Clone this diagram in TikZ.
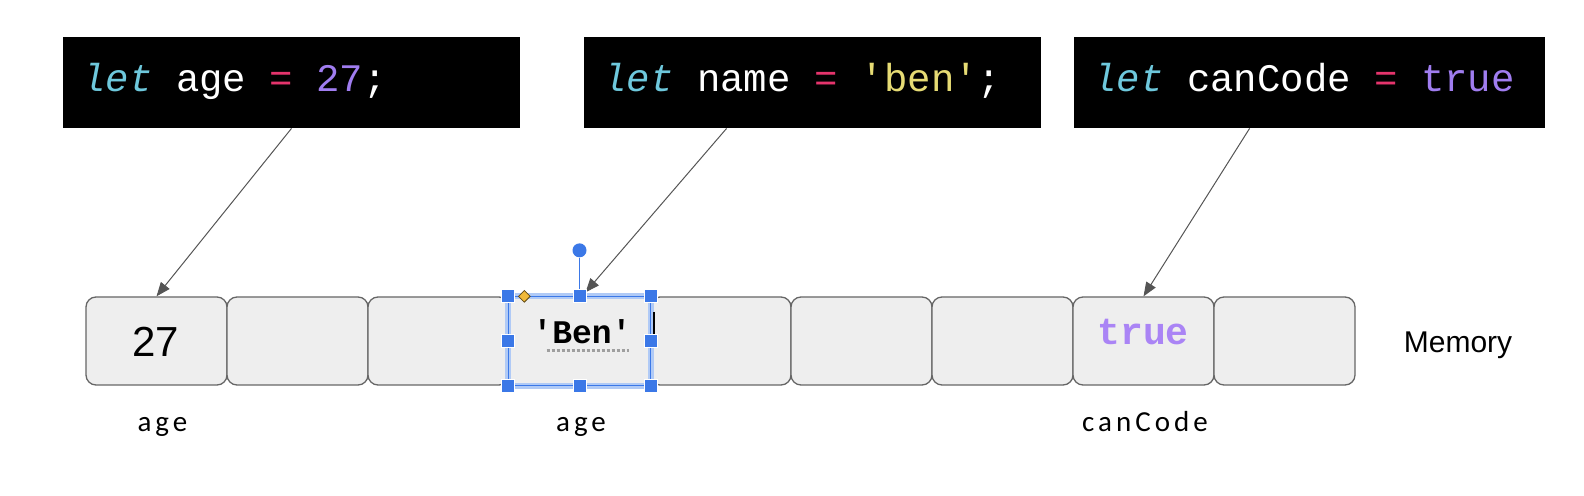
\documentclass[tikz,border=0pt]{standalone}
\usepackage{fontspec}
\usepackage{tikz}
\usetikzlibrary{arrows.meta,calc,shapes.geometric}
\setmainfont{Liberation Sans}
\newfontfamily\codefont{Liberation Mono}
\newfontfamily\labelfont[LetterSpace=14]{Carlito}
\definecolor{letCyan}{RGB}{110,200,220}
\definecolor{eqPink}{RGB}{228,52,108}
\definecolor{numPurple}{RGB}{160,125,240}
\definecolor{strYellow}{RGB}{230,219,116}
\definecolor{truePurple}{RGB}{170,132,245}
\definecolor{cellFill}{RGB}{238,238,238}
\definecolor{cellEdge}{RGB}{102,102,102}
\definecolor{ptrGray}{RGB}{85,85,85}
\definecolor{selBlue}{RGB}{59,120,231}
\definecolor{selHalo}{RGB}{176,202,246}
\definecolor{selYellow}{RGB}{240,185,58}
\newcommand{\kw}[1]{{\color{letCyan}\itshape #1}}
\newcommand{\eq}{{\color{eqPink}=}}
\tikzset{
  codebox/.style={fill=black, draw=none, minimum width=228.5pt, minimum height=45.5pt, inner sep=0pt},
  codetext/.style={text=white, font=\codefont\fontsize{19.5}{23}\selectfont, anchor=base west, inner sep=0pt},
  cell/.style={rounded corners=5pt, fill=cellFill, draw=cellEdge, line width=0.65pt, minimum width=70.5pt, minimum height=44pt, inner sep=0pt},
  ptr/.style={draw=ptrGray, line width=0.5pt, -{Triangle[length=7pt,width=5.5pt]}},
  varlabel/.style={font=\labelfont\fontsize{14.5}{17}\selectfont, anchor=base, inner sep=0pt},
  handle/.style={fill=selBlue, draw=white, line width=0.5pt, minimum size=6.5pt, inner sep=0pt}
}
\begin{document}
\begin{tikzpicture}[x=0.5pt, y=-0.5pt]
  \useasboundingbox (0,0) rectangle (1584,496);

  % code boxes
  \node[codebox] (box1) at (291.5,82.5) {};
  \node[codebox] (box2) at (812.5,82.5) {};
  \node[codebox, minimum width=235.5pt] (box3) at (1309.5,82.5) {};
  \node[codetext] (code1) at (82,92) {\kw{let} age \eq{} {\color{numPurple}27};};
  \node[codetext] (code2) at (603,92) {\kw{let} name \eq{} {\color{strYellow}'ben'};};
  \node[codetext] (code3) at (1093,92) {\kw{let} canCode \eq{} {\color{numPurple}true}};

  % memory cells
  \foreach \i in {1,...,9}
    \node[cell] (cell\i) at ({156.5+(\i-1)*141}, 341) {};

  \node[font=\fontsize{21}{25}\selectfont] (val1) at (156,342) {27};
  \node[font=\codefont\bfseries\fontsize{16.5}{20}\selectfont] (val4) at (582,332) {'Ben'};
  \node[font=\codefont\bfseries\fontsize{19}{22}\selectfont, text=truePurple] (val8) at (1143,332) {true};
  \node[font=\fontsize{15}{18}\selectfont] (memory) at (1458,345) {Memory};

  % variable names
  \node[varlabel] (lab1) at (162.5,431) {age};
  \node[varlabel] (lab4) at (581,431) {age};
  \node[varlabel] (lab8) at (1145,431) {canCode};

  % pointers
  \draw[ptr] (box1.south) -- (cell1.north);
  \draw[ptr] ($(box2.south west)+(143,0)$) -- ($(cell4.north)+(6,-4)$);
  \draw[ptr] ($(box3.south west)+(176,0)$) -- (cell8.north);

  % selection of the 'Ben' cell
  \draw[selHalo, line width=3pt] (cell4.north west) rectangle (cell4.south east);
  \draw[selBlue, line width=0.8pt] (cell4.north west) rectangle (cell4.south east);
  \draw[black, line width=1pt] ($(cell4.east)+(3,-29)$) -- ($(cell4.east)+(3,4)$);
  \draw[gray!75, line width=1.5pt, dash pattern=on 1.5pt off 1pt] ($(cell4.center)+(-33,10)$) -- ($(cell4.center)+(49,10)$);
  \node[circle, fill=selBlue, minimum size=7pt, inner sep=0pt] (rot) at ($(cell4.north)+(0,-46)$) {};
  \draw[selBlue, line width=0.9pt] (rot) -- (cell4.north);
  \foreach \a in {north west,north,north east,west,east,south west,south,south east}
    \node[handle] at (cell4.\a) {};
  \node[diamond, fill=selYellow, draw=black!60!selYellow, line width=0.4pt, minimum size=6pt, inner sep=0pt] (adj) at ($(cell4.north west)+(16,0)$) {};
\end{tikzpicture}
\end{document}
